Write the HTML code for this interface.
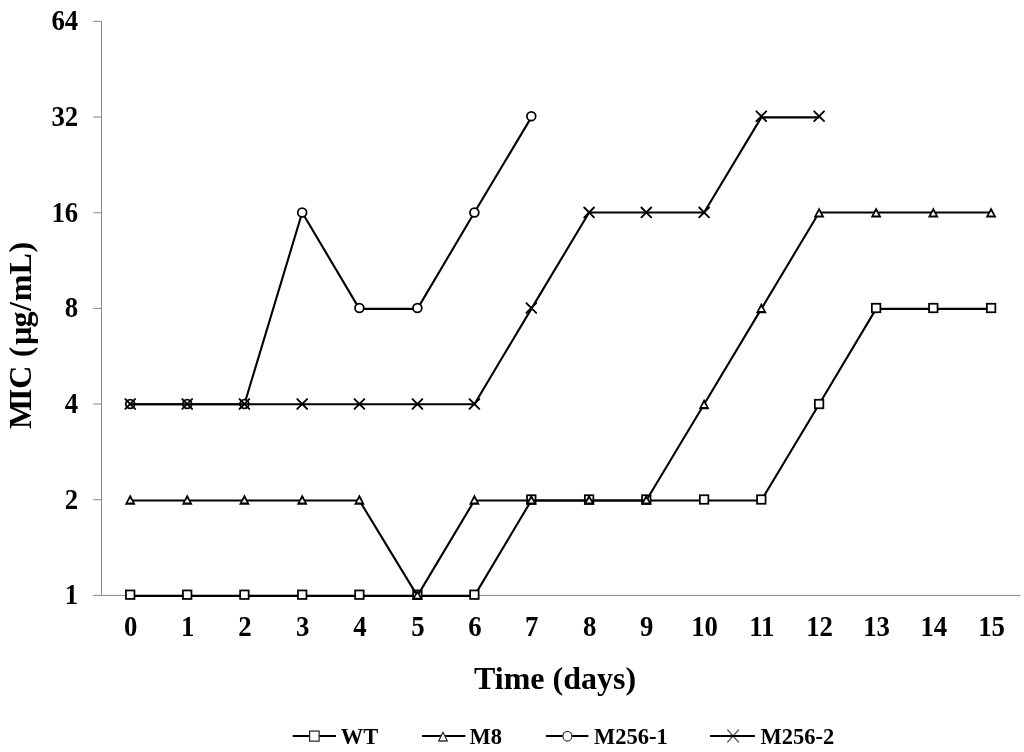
<!DOCTYPE html>
<html><head><meta charset="utf-8"><style>
html,body{margin:0;padding:0;background:#fff;}
svg{display:block;will-change:transform;}
text{font-family:"Liberation Serif",serif;font-weight:bold;fill:#000;}
.tl{font-size:28.8px;}
.tt{font-size:32px;}
.lg{font-size:22.5px;}
.ax{stroke:#868686;stroke-width:1;fill:none;}
.ln{stroke:#000;stroke-width:2.1;fill:none;stroke-linejoin:round;}
.m{stroke:#000;stroke-width:1.75;fill:#fff;}
.mx{stroke:#000;stroke-width:1.9;fill:none;stroke-linecap:round;}
</style></head><body>
<svg width="1024" height="752" viewBox="0 0 1024 752">
<rect width="1024" height="752" fill="#fff"/>
<path d="M101.5,21.38V595.40H1020.5" class="ax"/>
<path d="M93.2,595.40H101.5" class="ax"/>
<text transform="translate(78.2,604.20) scale(0.93,1)" text-anchor="end" class="tl">1</text>
<path d="M93.2,499.73H101.5" class="ax"/>
<text transform="translate(78.2,508.53) scale(0.93,1)" text-anchor="end" class="tl">2</text>
<path d="M93.2,404.06H101.5" class="ax"/>
<text transform="translate(78.2,412.86) scale(0.93,1)" text-anchor="end" class="tl">4</text>
<path d="M93.2,308.39H101.5" class="ax"/>
<text transform="translate(78.2,317.19) scale(0.93,1)" text-anchor="end" class="tl">8</text>
<path d="M93.2,212.72H101.5" class="ax"/>
<text transform="translate(78.2,221.52) scale(0.93,1)" text-anchor="end" class="tl">16</text>
<path d="M93.2,117.05H101.5" class="ax"/>
<text transform="translate(78.2,125.85) scale(0.93,1)" text-anchor="end" class="tl">32</text>
<path d="M93.2,21.38H101.5" class="ax"/>
<text transform="translate(78.2,30.18) scale(0.93,1)" text-anchor="end" class="tl">64</text>
<text transform="translate(130.70,636.2) scale(0.93,1)" text-anchor="middle" class="tl">0</text>
<text transform="translate(187.70,636.2) scale(0.93,1)" text-anchor="middle" class="tl">1</text>
<text transform="translate(244.90,636.2) scale(0.93,1)" text-anchor="middle" class="tl">2</text>
<text transform="translate(302.70,636.2) scale(0.93,1)" text-anchor="middle" class="tl">3</text>
<text transform="translate(359.90,636.2) scale(0.93,1)" text-anchor="middle" class="tl">4</text>
<text transform="translate(417.90,636.2) scale(0.93,1)" text-anchor="middle" class="tl">5</text>
<text transform="translate(474.90,636.2) scale(0.93,1)" text-anchor="middle" class="tl">6</text>
<text transform="translate(531.80,636.2) scale(0.93,1)" text-anchor="middle" class="tl">7</text>
<text transform="translate(589.60,636.2) scale(0.93,1)" text-anchor="middle" class="tl">8</text>
<text transform="translate(646.80,636.2) scale(0.93,1)" text-anchor="middle" class="tl">9</text>
<text transform="translate(704.60,636.2) scale(0.93,1)" text-anchor="middle" class="tl">10</text>
<text transform="translate(761.80,636.2) scale(0.93,1)" text-anchor="middle" class="tl">11</text>
<text transform="translate(819.60,636.2) scale(0.93,1)" text-anchor="middle" class="tl">12</text>
<text transform="translate(876.60,636.2) scale(0.93,1)" text-anchor="middle" class="tl">13</text>
<text transform="translate(933.80,636.2) scale(0.93,1)" text-anchor="middle" class="tl">14</text>
<text transform="translate(991.60,636.2) scale(0.93,1)" text-anchor="middle" class="tl">15</text>
<polyline points="130.20,595.90 187.20,595.90 244.40,595.90 302.20,595.90 359.40,595.90 417.40,595.90 474.40,595.90 531.30,500.50 589.10,500.50 646.30,500.50 704.10,500.50 761.30,500.50 819.10,404.20 876.10,308.90 933.30,308.90 991.10,308.90" class="ln"/>
<rect x="125.95" y="590.45" width="8.5" height="8.5" class="m"/>
<rect x="182.95" y="590.45" width="8.5" height="8.5" class="m"/>
<rect x="240.15" y="590.45" width="8.5" height="8.5" class="m"/>
<rect x="297.95" y="590.45" width="8.5" height="8.5" class="m"/>
<rect x="355.15" y="590.45" width="8.5" height="8.5" class="m"/>
<rect x="413.15" y="590.45" width="8.5" height="8.5" class="m"/>
<rect x="470.15" y="590.45" width="8.5" height="8.5" class="m"/>
<rect x="527.05" y="495.25" width="8.5" height="8.5" class="m"/>
<rect x="584.85" y="495.25" width="8.5" height="8.5" class="m"/>
<rect x="642.05" y="495.25" width="8.5" height="8.5" class="m"/>
<rect x="699.85" y="495.25" width="8.5" height="8.5" class="m"/>
<rect x="757.05" y="495.25" width="8.5" height="8.5" class="m"/>
<rect x="814.85" y="399.75" width="8.5" height="8.5" class="m"/>
<rect x="871.85" y="303.75" width="8.5" height="8.5" class="m"/>
<rect x="929.05" y="303.75" width="8.5" height="8.5" class="m"/>
<rect x="986.85" y="303.75" width="8.5" height="8.5" class="m"/>
<polyline points="130.20,500.50 187.20,500.50 244.40,500.50 302.20,500.50 359.40,500.50 417.40,595.90 474.40,500.50 531.30,500.50 589.10,500.50 646.30,500.50 704.10,404.20 761.30,308.90 819.10,212.50 876.10,212.50 933.30,212.50 991.10,212.50" class="ln"/>
<polygon points="130.20,494.30 135.60,504.70 124.80,504.70" fill="#000"/><polygon points="130.20,498.40 132.70,502.50 127.70,502.50" fill="#fff"/>
<polygon points="187.20,494.30 192.60,504.70 181.80,504.70" fill="#000"/><polygon points="187.20,498.40 189.70,502.50 184.70,502.50" fill="#fff"/>
<polygon points="244.40,494.30 249.80,504.70 239.00,504.70" fill="#000"/><polygon points="244.40,498.40 246.90,502.50 241.90,502.50" fill="#fff"/>
<polygon points="302.20,494.30 307.60,504.70 296.80,504.70" fill="#000"/><polygon points="302.20,498.40 304.70,502.50 299.70,502.50" fill="#fff"/>
<polygon points="359.40,494.30 364.80,504.70 354.00,504.70" fill="#000"/><polygon points="359.40,498.40 361.90,502.50 356.90,502.50" fill="#fff"/>
<polygon points="417.40,589.50 422.80,599.90 412.00,599.90" fill="#000"/><polygon points="417.40,593.60 419.90,597.70 414.90,597.70" fill="#fff"/>
<polygon points="474.40,494.30 479.80,504.70 469.00,504.70" fill="#000"/><polygon points="474.40,498.40 476.90,502.50 471.90,502.50" fill="#fff"/>
<polygon points="531.30,494.30 536.70,504.70 525.90,504.70" fill="#000"/><polygon points="531.30,498.40 533.80,502.50 528.80,502.50" fill="#fff"/>
<polygon points="589.10,494.30 594.50,504.70 583.70,504.70" fill="#000"/><polygon points="589.10,498.40 591.60,502.50 586.60,502.50" fill="#fff"/>
<polygon points="646.30,494.30 651.70,504.70 640.90,504.70" fill="#000"/><polygon points="646.30,498.40 648.80,502.50 643.80,502.50" fill="#fff"/>
<polygon points="704.10,398.80 709.50,409.20 698.70,409.20" fill="#000"/><polygon points="704.10,402.90 706.60,407.00 701.60,407.00" fill="#fff"/>
<polygon points="761.30,302.80 766.70,313.20 755.90,313.20" fill="#000"/><polygon points="761.30,306.90 763.80,311.00 758.80,311.00" fill="#fff"/>
<polygon points="819.10,207.20 824.50,217.60 813.70,217.60" fill="#000"/><polygon points="819.10,211.30 821.60,215.40 816.60,215.40" fill="#fff"/>
<polygon points="876.10,207.20 881.50,217.60 870.70,217.60" fill="#000"/><polygon points="876.10,211.30 878.60,215.40 873.60,215.40" fill="#fff"/>
<polygon points="933.30,207.20 938.70,217.60 927.90,217.60" fill="#000"/><polygon points="933.30,211.30 935.80,215.40 930.80,215.40" fill="#fff"/>
<polygon points="991.10,207.20 996.50,217.60 985.70,217.60" fill="#000"/><polygon points="991.10,211.30 993.60,215.40 988.60,215.40" fill="#fff"/>
<polyline points="130.20,404.20 187.20,404.20 244.40,404.20 302.20,212.50 359.40,308.90 417.40,308.90 474.40,212.50 531.30,117.40" class="ln"/>
<circle cx="130.20" cy="404.00" r="4.4" class="m"/>
<circle cx="187.20" cy="404.00" r="4.4" class="m"/>
<circle cx="244.40" cy="404.00" r="4.4" class="m"/>
<circle cx="302.20" cy="212.40" r="4.4" class="m"/>
<circle cx="359.40" cy="308.00" r="4.4" class="m"/>
<circle cx="417.40" cy="308.00" r="4.4" class="m"/>
<circle cx="474.40" cy="212.40" r="4.4" class="m"/>
<circle cx="531.30" cy="116.20" r="4.4" class="m"/>
<polyline points="130.20,404.20 187.20,404.20 244.40,404.20 302.20,404.20 359.40,404.20 417.40,404.20 474.40,404.20 531.30,308.90 589.10,212.50 646.30,212.50 704.10,212.50 761.30,117.40 819.10,117.40" class="ln"/>
<path d="M125.30,399.10L135.10,408.90M135.10,399.10L125.30,408.90" class="mx"/>
<path d="M182.30,399.10L192.10,408.90M192.10,399.10L182.30,408.90" class="mx"/>
<path d="M239.50,399.10L249.30,408.90M249.30,399.10L239.50,408.90" class="mx"/>
<path d="M297.30,399.10L307.10,408.90M307.10,399.10L297.30,408.90" class="mx"/>
<path d="M354.50,399.10L364.30,408.90M364.30,399.10L354.50,408.90" class="mx"/>
<path d="M412.50,399.10L422.30,408.90M422.30,399.10L412.50,408.90" class="mx"/>
<path d="M469.50,399.10L479.30,408.90M479.30,399.10L469.50,408.90" class="mx"/>
<path d="M526.40,303.10L536.20,312.90M536.20,303.10L526.40,312.90" class="mx"/>
<path d="M584.20,207.50L594.00,217.30M594.00,207.50L584.20,217.30" class="mx"/>
<path d="M641.40,207.50L651.20,217.30M651.20,207.50L641.40,217.30" class="mx"/>
<path d="M699.20,207.50L709.00,217.30M709.00,207.50L699.20,217.30" class="mx"/>
<path d="M756.40,111.30L766.20,121.10M766.20,111.30L756.40,121.10" class="mx"/>
<path d="M814.20,111.30L824.00,121.10M824.00,111.30L814.20,121.10" class="mx"/>
<text x="474" y="689" class="tt">Time (days)</text>
<text transform="translate(30.9,429) rotate(-90)" dx="0 -2.3 -0.2 0 0.4 1.6 -0.8 0.5 0.7 0.2 0.6" class="tt">MIC (µg/mL)</text>
<path d="M292.7,736H336" class="ln"/>
<rect x="309.60" y="731.05" width="9.5" height="10.1" fill="#fff" stroke="#2a2a2a" stroke-width="1.25"/>
<text x="340.8" y="743.5" class="lg">WT</text>
<path d="M422,736H465.4" class="ln"/>
<polygon points="443.00,732.20 447.30,741.00 438.70,741.00" fill="#fff" stroke="#333" stroke-width="1.3" stroke-linejoin="round"/>
<text x="469.6" y="743.5" class="lg">M8</text>
<path d="M545.9,736H588.4" class="ln"/>
<ellipse cx="567.40" cy="736.20" rx="4.5" ry="4.9" fill="#fff" stroke="#3a3a3a" stroke-width="1.25"/>
<text x="594" y="743.5" class="lg">M256-1</text>
<path d="M710,736H754.8" class="ln"/>
<path d="M727.70,730.00L738.50,742.00M738.50,730.00L727.70,742.00" stroke="#555" stroke-width="1.2" stroke-linecap="round" fill="none"/>
<path d="M710,736H754.8" class="ln"/>
<text x="760.6" y="743.5" class="lg">M256-2</text>
</svg>
</body></html>
